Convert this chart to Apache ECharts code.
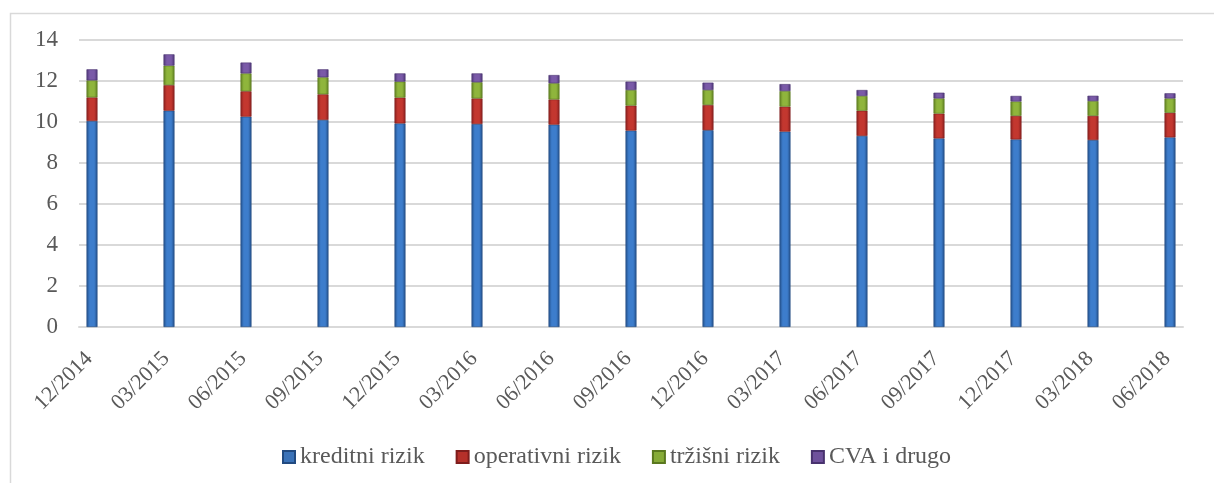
<!DOCTYPE html>
<html>
<head>
<meta charset="utf-8">
<script src="https://cdn.jsdelivr.net/npm/echarts@6/dist/echarts.min.js"></script>
<style>
html,body{margin:0;padding:0;background:#fff;}
#c{width:1214px;height:483px;}
</style>
</head>
<body>
<div id="c"></div>
<script>
const categories = ['12/2014','03/2015','06/2015','09/2015','12/2015','03/2016','06/2016','09/2016','12/2016','03/2017','06/2017','09/2017','12/2017','03/2018','06/2018'];
const kreditni = [10.05,10.55,10.26,10.10,9.93,9.90,9.87,9.58,9.60,9.53,9.32,9.20,9.15,9.12,9.25];
const operativni = [1.15,1.25,1.24,1.25,1.26,1.25,1.23,1.22,1.23,1.22,1.23,1.21,1.15,1.18,1.20];
const trzisni = [0.83,0.95,0.87,0.83,0.78,0.79,0.79,0.76,0.73,0.76,0.72,0.74,0.70,0.72,0.70];
const cva = [0.54,0.55,0.53,0.39,0.40,0.43,0.40,0.41,0.36,0.34,0.29,0.28,0.27,0.26,0.25];
const yTicks = {min:0, max:14, interval:2};
const seriesNames = ['kreditni rizik','operativni rizik','tržišni rizik','CVA i drugo'];

const FONT = '"Liberation Serif","Times New Roman",serif';
const TXT = '#595959';
function grad(edge, mid){
  return new echarts.graphic.LinearGradient(0,0,1,0,[
    {offset:0,color:edge},{offset:0.3,color:mid},{offset:0.7,color:mid},{offset:1,color:edge}
  ]);
}
const styles = [
  {c: grad('#23508a','#3d7dcc'), b:'#214a80', legend:'#3a72b8'},
  {c: grad('#8a1f1e','#c3372f'), b:'#7e1d1c', legend:'#b5302a'},
  {c: grad('#5f7f22','#8fb53c'), b:'#5a781f', legend:'#86ab37'},
  {c: grad('#4e3677','#7a5aa8'), b:'#48326e', legend:'#6f519c'}
];
const dataArr = [kreditni, operativni, trzisni, cva];

const chart = echarts.init(document.getElementById('c'), null, {renderer:'canvas'});
chart.setOption({
  animation:false,
  backgroundColor:'#fff',
  graphic:[{type:'rect', left:8, top:11, shape:{width:1220, height:480}, style:{fill:'none', stroke:'#d9d9d9', lineWidth:1.5}, silent:true}],
  legend:{
    left:277, top:440, itemWidth:12, itemHeight:12, itemGap:31,
    icon:'rect',
    textStyle:{fontFamily:FONT, fontSize:24, color:TXT},
    data: seriesNames.map((n,i)=>({name:n, itemStyle:{color:styles[i].legend}}))
  },
  grid:[
    {left:92, right:44, top:40, bottom:156},
    {left:79, right:31, top:40, bottom:156}
  ],
  xAxis:[
    {type:'category', gridIndex:0, data:categories, boundaryGap:false,
     axisLine:{show:false}, axisTick:{show:false}, splitLine:{show:false},
     axisLabel:{rotate:45, margin:10, align:'right', verticalAlign:'top', padding:[0,15,0,0], fontFamily:FONT, fontSize:22, color:TXT, interval:0}},
    {type:'value', gridIndex:1, min:0, max:1, show:true,
     axisLine:{show:true, lineStyle:{color:'#d9d9d9', width:2}}, axisTick:{show:false}, axisLabel:{show:false}, splitLine:{show:false}}
  ],
  yAxis:[
    {type:'value', gridIndex:0, min:yTicks.min, max:yTicks.max, interval:yTicks.interval,
     axisLine:{show:false}, axisTick:{show:false}, axisLabel:{show:false}, splitLine:{show:false}},
    {type:'value', gridIndex:1, min:yTicks.min, max:yTicks.max, interval:yTicks.interval,
     axisLine:{show:false}, axisTick:{show:false},
     axisLabel:{margin:21, fontFamily:FONT, fontSize:23, color:TXT},
     splitLine:{show:true, lineStyle:{color:'#d9d9d9', width:2}}}
  ],
  series: seriesNames.map((n,i)=>({
    name:n, type:'bar', stack:'t', xAxisIndex:0, yAxisIndex:0,
    barWidth:11, data:dataArr[i], z:5,
    itemStyle:{color:styles[i].c, borderColor:styles[i].b, borderWidth:0.6}
  }))
});
</script>
</body>
</html>
